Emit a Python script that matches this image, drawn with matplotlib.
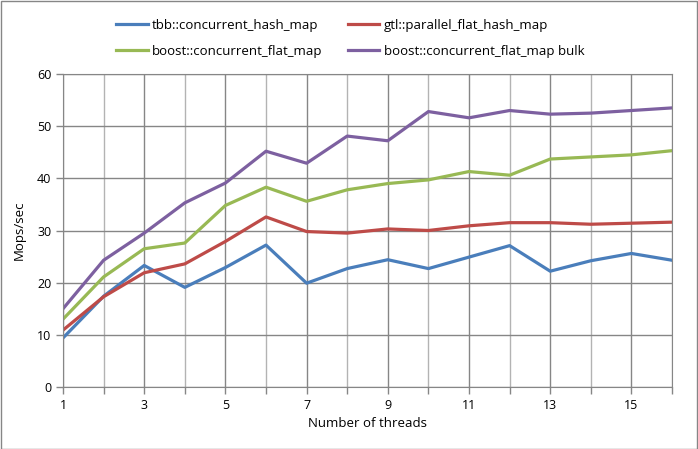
import matplotlib
matplotlib.use("Agg")
import matplotlib.pyplot as plt
from matplotlib.patches import Rectangle

threads = list(range(1, 17))
tbb = [9.4, 17.4, 23.3, 19.1, 22.9, 27.2, 19.9, 22.7,
       24.4, 22.7, 24.9, 27.1, 22.2, 24.2, 25.6, 24.3]
gtl = [10.9, 17.3, 21.9, 23.6, 27.9, 32.6, 29.8, 29.5,
       30.3, 30.0, 30.9, 31.5, 31.5, 31.2, 31.4, 31.6]
boost = [13.0, 21.1, 26.5, 27.6, 34.8, 38.3, 35.6, 37.8,
         39.0, 39.7, 41.3, 40.6, 43.7, 44.1, 44.5, 45.3]
boost_bulk = [15.0, 24.3, 29.5, 35.3, 39.1, 45.2, 42.9, 48.1,
              47.2, 52.8, 51.6, 53.0, 52.3, 52.5, 53.0, 53.5]

series = [("tbb::concurrent_hash_map", tbb, "#4a7ebb"),
          ("gtl::parallel_flat_hash_map", gtl, "#be4b48"),
          ("boost::concurrent_flat_map", boost, "#98b954"),
          ("boost::concurrent_flat_map bulk", boost_bulk, "#7d60a0")]

plt.rcParams["font.family"] = ["Open Sans", "DejaVu Sans"]
plt.rcParams["font.size"] = 9

W, H = 698, 449
fig = plt.figure(figsize=(W / 100, H / 100), dpi=100)
fig.patches.append(Rectangle((0.5 / W, 0.5 / H), 1 - 1.5 / W, 1 - 1.5 / H,
                             transform=fig.transFigure, fill=False,
                             edgecolor="#868686", lw=1))
ax = fig.add_axes([63 / W, 1 - 387 / H, (672 - 63) / W, (387 - 74) / H])

for x in threads:
    ax.axvline(x, color="#868686" if x % 2 else "#b3b3b3", lw=1, zorder=0)
for y in range(0, 61, 10):
    ax.axhline(y, color="#868686", lw=1, zorder=0)

handles = []
for name, vals, col in series:
    h, = ax.plot(threads, vals, color=col, lw=2.3, label=name,
                 solid_joinstyle="round")
    handles.append(h)

ax.set_xlim(1, 16)
ax.set_ylim(0, 60)
ax.set_xticks(threads)
ax.set_xticklabels([str(t) if t % 2 else "" for t in threads])
ax.set_yticks(range(0, 61, 10))
ax.tick_params(colors="#868686", labelcolor="black", length=5, width=1,
               labelsize=9)
for s in ax.spines.values():
    s.set_color("#868686")
ax.set_xlabel("Number of threads", fontsize=9.5, labelpad=4)
ax.set_ylabel("Mops/sec", fontsize=9.5, labelpad=8)

# legend is filled row-wise in the reference
order = [0, 2, 1, 3]
fig.legend(handles=[handles[i] for i in order], ncol=2, loc="upper left",
           bbox_to_anchor=(104 / W, 1 - 7 / H), frameon=False,
           handlelength=2.4, handletextpad=0.35, columnspacing=1.9,
           labelspacing=1.0, fontsize=9.5)

fig.savefig("out.png", dpi=100)
